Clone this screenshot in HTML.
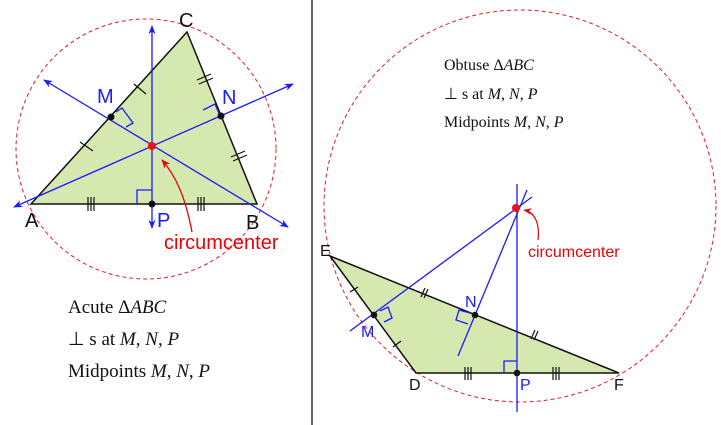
<!DOCTYPE html>
<html><head><meta charset="utf-8"><style>
html,body{margin:0;padding:0;background:#fff;}
svg{display:block;}
.s{font-family:"Liberation Sans",sans-serif;}
.t{font-family:"Liberation Serif",serif;}
</style></head><body>
<svg width="721" height="425" viewBox="0 0 721 425" xmlns="http://www.w3.org/2000/svg">
<defs>
<marker id="ar" viewBox="0 0 10 10" refX="9" refY="5" markerWidth="7" markerHeight="7" orient="auto-start-reverse"><path d="M0,1 L10,5 L0,9 L3,5 z" fill="#1a1aff"/></marker>
<marker id="rr" viewBox="0 0 10 10" refX="9" refY="5" markerWidth="7" markerHeight="7" orient="auto"><path d="M0,1 L10,5 L0,9 L3,5 z" fill="#e00"/></marker>
</defs>
<line x1="312" y1="0" x2="312" y2="425" stroke="#000" stroke-width="1.2"/>

<!-- LEFT -->
<circle cx="146" cy="149" r="130" fill="none" stroke="#e02020" stroke-width="1" stroke-dasharray="4,3"/>
<polygon points="31,204 257,204 187,32" fill="#d5e8b0" stroke="#111" stroke-width="1.5"/>
<g stroke="#1a1aff" stroke-width="1.3" fill="none">
<line x1="152" y1="228" x2="152" y2="26" marker-start="url(#ar)" marker-end="url(#ar)"/>
<line x1="44" y1="80" x2="288" y2="227" marker-start="url(#ar)" marker-end="url(#ar)"/>
<line x1="14" y1="207" x2="293" y2="84" marker-start="url(#ar)" marker-end="url(#ar)"/>
<polyline points="137,204 137,190 152,190"/>
<polyline points="116,112 122,108 133,123 126,127"/>
<polyline points="203,110 215,104 221,118"/>
</g>
<g stroke="#111" stroke-width="1.2">
<line x1="134" y1="84" x2="146" y2="94"/><line x1="80" y1="142" x2="93" y2="151"/>
<line x1="197" y1="80" x2="211" y2="74"/><line x1="199" y1="84" x2="213" y2="78"/>
<line x1="231" y1="157" x2="245" y2="151"/><line x1="233" y1="161" x2="247" y2="155"/>
<line x1="88" y1="197" x2="88" y2="211"/><line x1="91" y1="197" x2="91" y2="211"/><line x1="94" y1="197" x2="94" y2="211"/>
<line x1="198" y1="197" x2="198" y2="211"/><line x1="201" y1="197" x2="201" y2="211"/><line x1="204" y1="197" x2="204" y2="211"/>
</g>
<circle cx="111" cy="117" r="3.5" fill="#111"/>
<circle cx="221" cy="116" r="3.5" fill="#111"/>
<circle cx="152" cy="204" r="3.5" fill="#111"/>
<circle cx="152" cy="146" r="4" fill="#ee1111"/>
<path d="M192,232 C185,195 175,175 162,160" fill="none" stroke="#e00" stroke-width="1.3" marker-end="url(#rr)"/>
<g class="s" font-size="20">
<text x="179" y="27" fill="#111">C</text>
<text x="25" y="227" fill="#111">A</text>
<text x="246" y="229" fill="#111">B</text>
<text x="97" y="103" fill="#1a1aff">M</text>
<text x="222" y="104" fill="#1a1aff">N</text>
<text x="157" y="227" fill="#1a1aff">P</text>
<text x="164" y="249" fill="#e00">circumcenter</text>
</g>
<g class="t" font-size="19" fill="#111">
<text x="68" y="313">Acute Δ<tspan font-style="italic">ABC</tspan></text>
<text x="68" y="345">⊥ s at <tspan font-style="italic">M</tspan>, <tspan font-style="italic">N</tspan>, <tspan font-style="italic">P</tspan></text>
<text x="68" y="377">Midpoints <tspan font-style="italic">M</tspan>, <tspan font-style="italic">N</tspan>, <tspan font-style="italic">P</tspan></text>
</g>

<!-- RIGHT -->
<circle cx="520" cy="206" r="196" fill="none" stroke="#e02020" stroke-width="1" stroke-dasharray="4,3"/>
<polygon points="330,256 416,373 619,373" fill="#d5e8b0" stroke="#111" stroke-width="1.5"/>
<g stroke="#1a1aff" stroke-width="1.3" fill="none">
<line x1="517" y1="184" x2="517" y2="412"/>
<line x1="350" y1="331" x2="532" y2="197"/>
<line x1="458" y1="356" x2="527" y2="190"/>
<polyline points="504,373 504,361 517,361"/>
<polyline points="380,311 388,307 392,318 384,322"/>
<polyline points="470,313 459,310 456,320 468,324"/>
</g>
<g stroke="#111" stroke-width="1.2">
<line x1="350" y1="292" x2="358" y2="287"/><line x1="393" y1="347" x2="401" y2="341"/>
<line x1="421" y1="297" x2="425" y2="288"/><line x1="424" y1="298" x2="428" y2="289"/>
<line x1="531" y1="339" x2="535" y2="330"/><line x1="534" y1="340" x2="538" y2="331"/>
<line x1="465" y1="367" x2="465" y2="380"/><line x1="468" y1="367" x2="468" y2="380"/><line x1="471" y1="367" x2="471" y2="380"/>
<line x1="553" y1="367" x2="553" y2="380"/><line x1="556" y1="367" x2="556" y2="380"/><line x1="559" y1="367" x2="559" y2="380"/>
</g>
<circle cx="374" cy="315" r="3.3" fill="#111"/>
<circle cx="475" cy="315" r="3.3" fill="#111"/>
<circle cx="517" cy="373" r="3.3" fill="#111"/>
<circle cx="516" cy="208" r="4" fill="#ee1111"/>
<path d="M538,240 C540,222 534,212 524,210" fill="none" stroke="#e00" stroke-width="1.2" marker-end="url(#rr)"/>
<g class="s" font-size="16">
<text x="320" y="256" fill="#111">E</text>
<text x="409" y="390" fill="#111">D</text>
<text x="614" y="390" fill="#111">F</text>
<text x="361" y="337" fill="#1a1aff">M</text>
<text x="465" y="307" fill="#1a1aff">N</text>
<text x="520" y="390" fill="#1a1aff">P</text>
<text x="528" y="257" fill="#e00">circumcenter</text>
</g>
<g class="t" font-size="16" fill="#111">
<text x="444" y="70">Obtuse Δ<tspan font-style="italic">ABC</tspan></text>
<text x="444" y="99">⊥ s at <tspan font-style="italic">M</tspan>, <tspan font-style="italic">N</tspan>, <tspan font-style="italic">P</tspan></text>
<text x="444" y="127">Midpoints <tspan font-style="italic">M</tspan>, <tspan font-style="italic">N</tspan>, <tspan font-style="italic">P</tspan></text>
</g>
</svg>
</body></html>
